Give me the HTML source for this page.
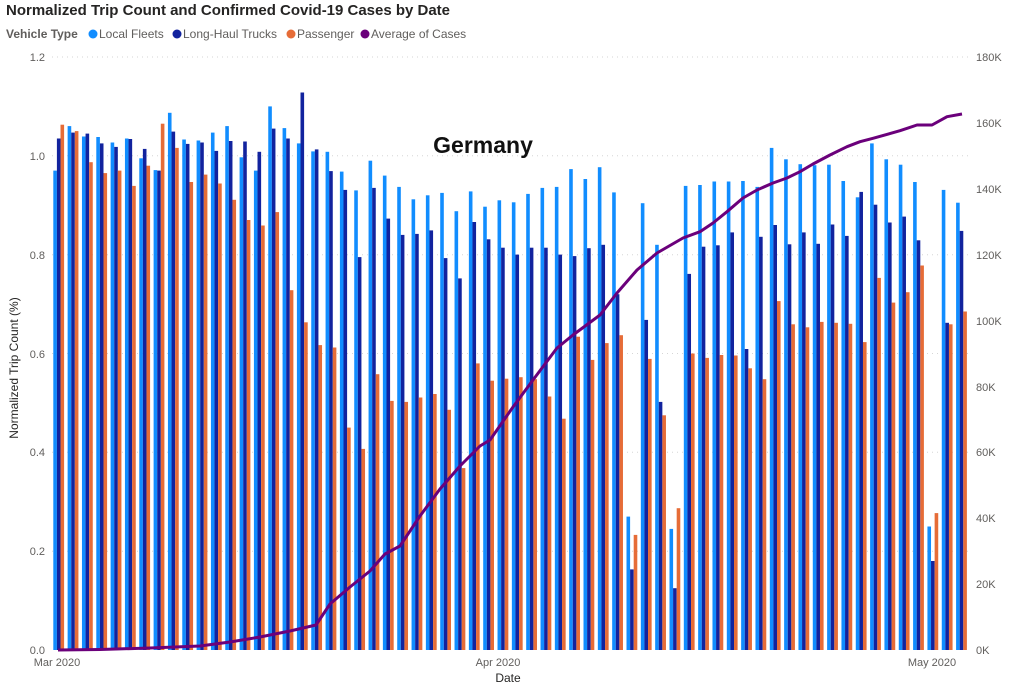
<!DOCTYPE html>
<html><head><meta charset="utf-8"><style>
html,body{margin:0;padding:0;background:#fff;}
svg{display:block;font-family:"Liberation Sans","DejaVu Sans",sans-serif;}
</style></head><body>
<svg id="c" width="1024" height="687" viewBox="0 0 1024 687" xmlns="http://www.w3.org/2000/svg">
<text x="6" y="15" font-size="15" font-weight="bold" fill="#252423" textLength="444">Normalized Trip Count and Confirmed Covid-19 Cases by Date</text>
<text x="6" y="38" font-size="12" font-weight="bold" fill="#605E5C">Vehicle Type</text>
<circle cx="93" cy="34" r="4.5" fill="#118DFF"/><text x="99" y="38" font-size="12" fill="#605E5C">Local Fleets</text>
<circle cx="177" cy="34" r="4.5" fill="#12239E"/><text x="183" y="38" font-size="12" fill="#605E5C">Long-Haul Trucks</text>
<circle cx="291" cy="34" r="4.5" fill="#E66C37"/><text x="297" y="38" font-size="12" fill="#605E5C">Passenger</text>
<circle cx="365" cy="34" r="4.5" fill="#6B007B"/><text x="371" y="38" font-size="12" fill="#605E5C">Average of Cases</text>
<g stroke="#d6d6d6" stroke-dasharray="1,4" stroke-width="1">
<line x1="52" x2="968" y1="57" y2="57"/><line x1="52" x2="968" y1="155.8" y2="155.8"/><line x1="52" x2="968" y1="254.7" y2="254.7"/><line x1="52" x2="968" y1="353.5" y2="353.5"/><line x1="52" x2="968" y1="452.3" y2="452.3"/><line x1="52" x2="968" y1="551.2" y2="551.2"/>
</g>
<g font-size="11" fill="#605E5C" text-anchor="end">
<text x="45" y="61">1.2</text><text x="45" y="160">1.0</text><text x="45" y="259">0.8</text><text x="45" y="358">0.6</text><text x="45" y="456">0.4</text><text x="45" y="555">0.2</text><text x="45" y="654">0.0</text>
</g>
<g font-size="11" fill="#605E5C">
<text x="976" y="61">180K</text><text x="976" y="127">160K</text><text x="976" y="193">140K</text><text x="976" y="259">120K</text><text x="976" y="325">100K</text><text x="976" y="391">80K</text><text x="976" y="456">60K</text><text x="976" y="522">40K</text><text x="976" y="588">20K</text><text x="976" y="654">0K</text>
</g>
<text transform="translate(18,368) rotate(-90)" font-size="12" fill="#252423" text-anchor="middle">Normalized Trip Count (%)</text>
<g font-size="11" fill="#605E5C" text-anchor="middle">
<text x="57" y="666">Mar 2020</text><text x="498" y="666">Apr 2020</text><text x="932" y="666">May 2020</text>
</g>
<text x="508" y="682" font-size="12" fill="#252423" text-anchor="middle">Date</text>
<g id="bars"></g>
<polyline id="line" fill="none" stroke="#6B007B" stroke-width="3" stroke-linejoin="round"/>
<text x="483" y="153" font-size="23" font-weight="bold" fill="#111" text-anchor="middle">Germany</text>
</svg>
<script>
var L=[0.97,1.06,1.039,1.038,1.027,1.035,0.995,0.971,1.087,1.033,1.031,1.047,1.06,0.997,0.97,1.1,1.056,1.025,1.009,1.008,0.968,0.93,0.99,0.96,0.937,0.912,0.92,0.925,0.888,0.928,0.897,0.91,0.906,0.923,0.935,0.937,0.973,0.953,0.977,0.926,0.27,0.904,0.82,0.245,0.939,0.941,0.948,0.948,0.949,0.937,1.016,0.993,0.983,0.981,0.982,0.949,0.916,1.025,0.993,0.982,0.947,0.25,0.931,0.905];
var D=[1.035,1.047,1.045,1.025,1.018,1.034,1.014,0.97,1.049,1.024,1.027,1.01,1.03,1.029,1.008,1.055,1.035,1.128,1.013,0.969,0.931,0.795,0.935,0.873,0.84,0.842,0.849,0.793,0.752,0.866,0.831,0.814,0.80,0.814,0.814,0.80,0.797,0.813,0.82,0.72,0.163,0.668,0.502,0.125,0.761,0.816,0.819,0.845,0.609,0.836,0.86,0.821,0.845,0.822,0.861,0.838,0.927,0.901,0.865,0.877,0.829,0.18,0.662,0.848];
var O=[1.063,1.05,0.987,0.965,0.97,0.939,0.98,1.065,1.016,0.947,0.962,0.944,0.911,0.87,0.859,0.886,0.728,0.663,0.617,0.612,0.45,0.407,0.558,0.504,0.502,0.511,0.518,0.486,0.368,0.58,0.545,0.549,0.552,0.548,0.513,0.468,0.634,0.587,0.621,0.637,0.233,0.589,0.475,0.287,0.6,0.591,0.597,0.596,0.57,0.548,0.706,0.659,0.653,0.664,0.662,0.66,0.623,0.753,0.703,0.724,0.778,0.277,0.659,0.685];
var g=document.getElementById('bars'),s='';
function r(x,v,c){var y=650-v*494.2;s+='<rect x="'+x.toFixed(2)+'" y="'+y.toFixed(1)+'" width="3.6" height="'+(650-y).toFixed(1)+'" fill="'+c+'"/>';}
for(var i=0;i<64;i++){var x=53.3+i*14.33;r(x,L[i],'#118DFF');r(x+3.6,D[i],'#12239E');r(x+7.2,O[i],'#E66C37');}
g.innerHTML=s;
var P=[[58,650],[100,649.5],[150,648],[200,646],[230,642],[260,637],[290,631],[316,625],[330,604],[350,587],[370,571],[385,554],[400,546],[420,516],[440,489],[460,466],[480,446],[490,440],[513,407],[533,380],[557,348],[573,335],[600,315],[617,293],[637,270],[657,253],[683,238],[700,231.7],[713,223],[727,211.7],[743,198],[757,190],[773,183],[787,178],[800,171.7],[813,164],[830,155],[847,146.7],[860,141.7],[873,138.3],[900,130.7],[917,125],[932,125],[947,116.7],[962,114]];
document.getElementById('line').setAttribute('points',P.map(function(p){return p.join(',')}).join(' '));
</script>
</body></html>
